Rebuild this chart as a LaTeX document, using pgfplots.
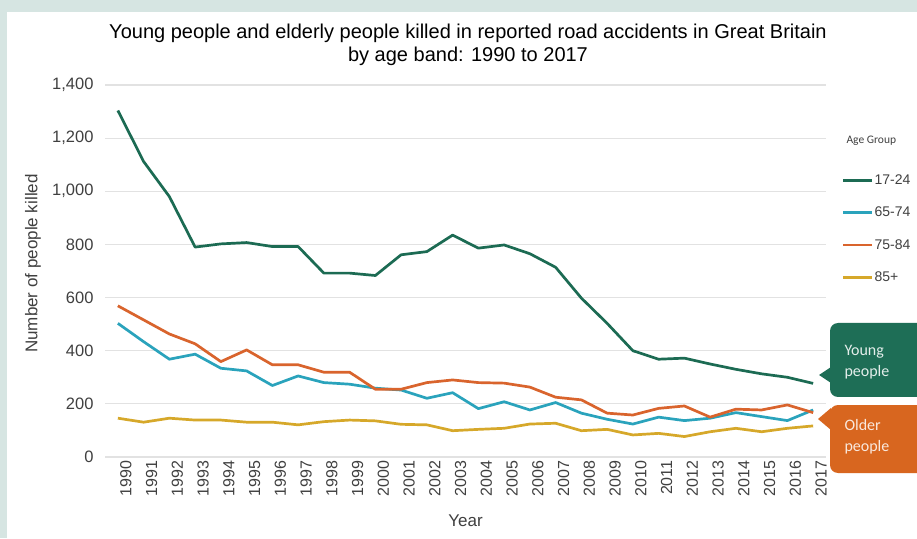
\documentclass[border=0pt]{standalone}
\usepackage{fontspec}
\setmainfont{Liberation Sans}
\newfontfamily\calib{Carlito}
\usepackage{pgfplots}
\pgfplotsset{compat=1.18}

\definecolor{bgpanel}{HTML}{D6E5E2}
\definecolor{txt}{HTML}{404040}
\definecolor{gridc}{HTML}{E2E2E2}
\definecolor{cYoung}{HTML}{1C6B53}
\definecolor{cSixty}{HTML}{2AA3BC}
\definecolor{cSeventy}{HTML}{D9642D}
\definecolor{cEighty}{HTML}{D6A82A}
\definecolor{boxGreen}{HTML}{1E6E56}
\definecolor{boxOrange}{HTML}{D8661F}

\begin{document}
\begin{tikzpicture}[x=1pt,y=1pt]
\useasboundingbox (0,0) rectangle (917,538);
\fill[bgpanel] (0,0) rectangle (917,538);
\fill[white] (7,0) rectangle (917,526);

% title
\node[align=center, text=black, font=\fontsize{20}{23}\selectfont] at (468,493)
  {Young people and elderly people killed in reported road accidents in Great Britain\\by age band: 1990 to 2017};

\begin{axis}[
  at={(105pt,81pt)}, anchor=south west,
  scale only axis, width=721pt, height=372pt,
  xmin=1989.5, xmax=2017.5, ymin=0, ymax=1400,
  xtick={1990,...,2017}, ytick={0,200,...,1400},
  axis line style={draw=none}, tick style={draw=none},
  ymajorgrids, grid style={gridc, line width=1.2pt},
  /pgf/number format/assume math mode=true,
  ticklabel style={text=txt, font=\fontsize{16.5}{18}\selectfont},
  xticklabel style={rotate=90, anchor=east, /pgf/number format/1000 sep={}, yshift=-8pt,
    font=\fontsize{16}{18}\selectfont},
  yticklabel style={/pgf/number format/1000 sep={,}, xshift=-8pt},
  xlabel={Year}, ylabel={Number of people killed},
  every axis x label/.style={at={(axis description cs:0.5,-0.172)}, anchor=center,
    text=txt, font=\fontsize{17}{19}\selectfont},
  every axis y label/.style={at={(axis description cs:-0.1,0.52)}, rotate=90, anchor=center,
    text=txt, font=\fontsize{17}{19}\selectfont},
  legend style={at={(axis description cs:1.022,0.762)}, anchor=north west, draw=none, fill=none,
    font=\fontsize{14}{16}\selectfont, text=txt, row sep=19pt, inner sep=0pt,
    nodes={inner sep=1pt}},
  legend cell align=left,
  legend image code/.code={\draw[#1, line width=2.6pt] (0pt,0pt) -- (29pt,0pt);},
  every axis plot/.append style={line width=2.7pt, line join=round},
]
\addplot[cYoung] coordinates {
 (1990,1304) (1991,1112) (1992,980) (1993,790) (1994,802) (1995,807) (1996,792)
 (1997,792) (1998,692) (1999,692) (2000,683) (2001,761) (2002,773) (2003,835)
 (2004,786) (2005,798) (2006,765) (2007,714) (2008,598) (2009,503) (2010,400)
 (2011,368) (2012,372) (2013,350) (2014,330) (2015,313) (2016,300) (2017,277)
};
\addlegendentry{17-24}
\addplot[cSixty] coordinates {
 (1990,503) (1991,434) (1992,368) (1993,387) (1994,334) (1995,324) (1996,269)
 (1997,305) (1998,280) (1999,274) (2000,259) (2001,252) (2002,221) (2003,242)
 (2004,182) (2005,208) (2006,177) (2007,205) (2008,165) (2009,142) (2010,124)
 (2011,150) (2012,137) (2013,146) (2014,167) (2015,152) (2016,137) (2017,177)
};
\addlegendentry{65-74}
\addplot[cSeventy] coordinates {
 (1990,569) (1991,516) (1992,463) (1993,426) (1994,359) (1995,403) (1996,347)
 (1997,347) (1998,319) (1999,319) (2000,255) (2001,255) (2002,280) (2003,290)
 (2004,280) (2005,278) (2006,263) (2007,225) (2008,215) (2009,165) (2010,158)
 (2011,183) (2012,192) (2013,150) (2014,180) (2015,177) (2016,196) (2017,167)
};
\addlegendentry{75-84}
\addplot[cEighty] coordinates {
 (1990,146) (1991,131) (1992,146) (1993,139) (1994,139) (1995,131) (1996,131)
 (1997,121) (1998,133) (1999,139) (2000,136) (2001,123) (2002,121) (2003,99)
 (2004,104) (2005,108) (2006,124) (2007,127) (2008,99) (2009,104) (2010,83)
 (2011,89) (2012,77) (2013,95) (2014,108) (2015,95) (2016,108) (2017,117)
};
\addlegendentry{85+}
\end{axis}

% legend title
\node[anchor=west, text=txt, font=\calib\fontsize{11.5}{13}\selectfont] at (843,397) {Age Group};

% callouts
\fill[boxGreen, rounded corners=8pt] (830,141) rectangle (940,215);
\fill[boxGreen] (831,171) -- (819,163) -- (831,155) -- cycle;
\node[anchor=west, align=left, text=white!88!boxGreen, font=\calib\fontsize{16}{21}\selectfont] at (841,176) {Young\\people};

\fill[boxOrange, rounded corners=8pt] (830,65) rectangle (940,133);
\fill[boxOrange] (831,130) -- (818,119) -- (831,108) -- cycle;
\node[anchor=west, align=left, text=white!85!boxOrange, font=\calib\fontsize{16}{21}\selectfont] at (841,101) {Older\\people};
\end{tikzpicture}
\end{document}
